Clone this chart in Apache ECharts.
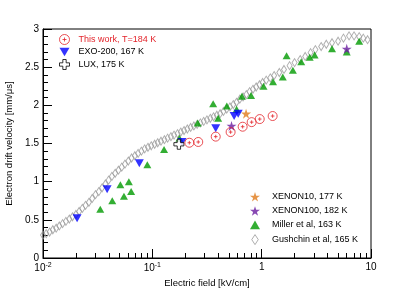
<!DOCTYPE html>
<html><head><meta charset="utf-8">
<script src="https://cdn.jsdelivr.net/npm/echarts@6/dist/echarts.min.js"></script>
<style>html,body{margin:0;padding:0;background:#fff}#c{width:415px;height:289px}</style>
</head><body><div id="c"></div>
<script>
// ---- data (E in kV/cm, v in mm/us) ----
var thisWork = [[0.218,1.51],[0.263,1.52],[0.38,1.59],[0.52,1.65],[0.67,1.72],[0.81,1.78],[0.96,1.82],[1.26,1.86]];
var exo200 = [[0.0205,0.52],[0.0386,0.90],[0.076,1.24],[0.187,1.52],[0.38,1.70],[0.56,1.86],[0.61,1.89]];
var lux = [[0.175,1.49]];
var xenon10 = [[0.72,1.89]];
var xenon100 = [[0.53,1.73],[6.0,2.74]];
var miller = [[0.0334,0.64],[0.043,0.75],[0.051,0.96],[0.055,0.81],[0.061,1.00],[0.064,0.87],[0.090,1.22],[0.128,1.42],
  [0.177,1.57],[0.26,1.77],[0.36,2.02],[0.40,1.83],[0.48,1.99],[0.59,1.95],[0.66,2.12],[0.80,2.13],[1.04,2.25],[1.27,2.31],
  [1.56,2.37],[1.69,2.65],[1.93,2.46],[2.3,2.57],[2.75,2.63],[3.05,2.66],[4.4,2.74],[6.0,2.70],[7.8,2.84]];
var gushchin = [[0.0100,0.30],[0.0107,0.32],[0.0115,0.34],[0.0123,0.37],[0.0132,0.39],[0.0141,0.42],[0.0151,0.45],[0.0162,0.48],
  [0.0174,0.51],[0.0186,0.54],[0.0200,0.57],[0.0214,0.61],[0.0229,0.65],[0.0245,0.69],[0.0263,0.73],[0.0282,0.78],[0.0302,0.83],
  [0.0324,0.87],[0.0347,0.92],[0.0372,0.97],[0.0398,1.02],[0.0427,1.07],[0.0457,1.11],[0.0490,1.15],[0.0525,1.19],[0.0562,1.23],
  [0.0603,1.27],[0.0646,1.31],[0.0692,1.34],[0.0741,1.37],[0.0794,1.40],[0.0851,1.43],[0.0912,1.45],[0.0977,1.47],[0.105,1.49],
  [0.112,1.51],[0.120,1.53],[0.129,1.55],[0.138,1.57],[0.148,1.59],[0.158,1.61],[0.170,1.63],[0.182,1.65],[0.195,1.67],
  [0.209,1.69],[0.224,1.71],[0.240,1.73],[0.257,1.75],[0.275,1.77],[0.295,1.79],[0.316,1.81],[0.339,1.83],[0.363,1.85],
  [0.389,1.87],[0.417,1.89],[0.447,1.92],[0.479,1.95],[0.513,1.98],[0.550,2.01],[0.589,2.04],[0.631,2.08],[0.676,2.11],
  [0.724,2.14],[0.776,2.18],[0.832,2.21],[0.891,2.24],[0.955,2.27],[1.02,2.30],[1.10,2.33],[1.20,2.36],[1.30,2.39],[1.45,2.43],
  [1.60,2.47],[1.80,2.52],[2.00,2.56],[2.25,2.60],[2.50,2.64],[2.80,2.69],[3.10,2.73],[3.50,2.77],[3.90,2.80],[4.40,2.82],
  [5.00,2.84],[5.60,2.88],[6.30,2.91],[7.00,2.91],[7.80,2.90],[8.50,2.88],[9.30,2.86]];
var xMajorLabels = {'0.01':'10{s|-2}','0.1':'10{s|-1}','1':'1','10':'10'};
var xMinorTicks = [0.02,0.03,0.04,0.05,0.06,0.07,0.08,0.09,0.2,0.3,0.4,0.5,0.6,0.7,0.8,0.9,2,3,4,5,6,7,8,9];
var names = ['This work, T=184 K','EXO-200, 167 K','LUX, 175 K','XENON10, 177 K','XENON100, 182 K','Miller et al, 163 K','Gushchin et al, 165 K'];

var FONT = 'Liberation Sans';
var circlePlus = 'path://M0,-10 A10,10 0 1,1 0,10 A10,10 0 1,1 0,-10 Z M-4,0 L4,0 M0,-4 L0,4';
var downTri = 'path://M-10,-8.66 L10,-8.66 L0,8.66 Z';
var upTri = 'path://M-10,8.66 L10,8.66 L0,-8.66 Z';
var openCross = 'path://M-1,-3 L1,-3 L1,-1 L3,-1 L3,1 L1,1 L1,3 L-1,3 L-1,1 L-3,1 L-3,-1 L-1,-1 Z';
var star = 'path://M0,-1 L0.2245,-0.309 L0.951,-0.309 L0.363,0.118 L0.588,0.809 L0,0.382 L-0.588,0.809 L-0.363,0.118 L-0.951,-0.309 L-0.2245,-0.309 Z';
var diamond = 'path://M0,-1 L0.65,0 L0,1 L-0.65,0 Z';

var chart = echarts.init(document.getElementById('c'), null, {renderer:'canvas'});
function sc(name, data, symbol, size, style, z){
  return {name:name, type:'scatter', data:data, symbol:symbol, symbolSize:size, itemStyle:style, z:z||2, xAxisIndex:0, yAxisIndex:0,
    emphasis:{disabled:true}, animation:false};
}
chart.setOption({
  animation:false,
  textStyle:{fontFamily:FONT},
  grid:{left:43, right:44, top:29, bottom:31, outerBoundsMode:'none', containLabel:false,
    show:true, borderColor:'#000', borderWidth:1, backgroundColor:'transparent'},
  xAxis:[{
    type:'log', logBase:10, min:0.01, max:10, position:'bottom',
    name:'Electric field [kV/cm]', nameLocation:'middle', nameGap:17,
    nameTextStyle:{fontFamily:FONT, fontSize:9.5, color:'#000'},
    axisLine:{show:true, lineStyle:{color:'#000', width:1}},
    axisTick:{show:true, inside:true, length:9, lineStyle:{color:'#000'}},
    minorTick:{show:false},
    splitLine:{show:false},
    axisLabel:{fontFamily:FONT, fontSize:10, color:'#000', margin:4,
      formatter:function(v){ var k = String(+v.toPrecision(3)); return xMajorLabels[k] !== undefined ? xMajorLabels[k] : ''; },
      rich:{s:{fontSize:7, verticalAlign:'top', padding:[0,0,5,0], fontFamily:FONT, color:'#000'}}}
  },{
    type:'log', logBase:10, min:0.01, max:10, position:'bottom', offset:0,
    axisLine:{show:false},
    axisTick:{show:true, inside:true, length:5, customValues:xMinorTicks, lineStyle:{color:'#000'}},
    axisLabel:{show:false}, splitLine:{show:false}
  }],
  yAxis:{
    type:'value', min:0, max:3, interval:0.5,
    name:'Electron drift velocity [mm/\u03bcs]', nameLocation:'middle', nameGap:28,
    nameTextStyle:{fontFamily:FONT, fontSize:9.5, color:'#000'},
    axisLine:{show:true, lineStyle:{color:'#000', width:1}},
    axisTick:{show:true, inside:true, length:9, lineStyle:{color:'#000'}},
    minorTick:{show:true, splitNumber:5, length:5, lineStyle:{color:'#000'}},
    splitLine:{show:false},
    axisLabel:{fontFamily:FONT, fontSize:10, color:'#000', margin:4}
  },
  legend:[{
    left:59, top:34, padding:0, orient:'vertical', itemWidth:10, itemHeight:10, itemGap:2.5,
    textStyle:{fontFamily:FONT, fontSize:9, color:'#000', padding:[0,0,0,4]},
    data:[{name:names[0], textStyle:{color:'#e3242b'}, itemStyle:{borderWidth:1}}, names[1], {name:names[2], itemStyle:{borderWidth:1}}],
    selectedMode:false
  },{
    left:250, top:192, padding:0, orient:'vertical', itemWidth:10, itemHeight:10, itemGap:4.7,
    textStyle:{fontFamily:FONT, fontSize:9, color:'#000', padding:[0,0,0,7]},
    data:[names[3], names[4], names[5], {name:names[6], itemStyle:{borderWidth:1}}],
    selectedMode:false
  }],
  series:[
    sc(names[6], gushchin, diamond, [5,8], {color:'transparent', borderColor:'#9a9a9a', borderWidth:1}, 1),
    sc(names[5], miller, upTri, [8,7], {color:'#009a00'}, 2),
    sc(names[1], exo200, downTri, [9,8], {color:'#0000ff'}, 3),
    sc(names[2], lux, openCross, [10,10], {color:'#fff', borderColor:'#000', borderWidth:1}, 4),
    sc(names[3], xenon10, star, [10,10], {color:'#e07a1a'}, 4),
    sc(names[4], xenon100, star, [10,10], {color:'#6a1ba0'}, 4),
    sc(names[0], thisWork, circlePlus, [9,9], {color:'transparent', borderColor:'#e3242b', borderWidth:1}, 5)
  ]
});
</script></body></html>
